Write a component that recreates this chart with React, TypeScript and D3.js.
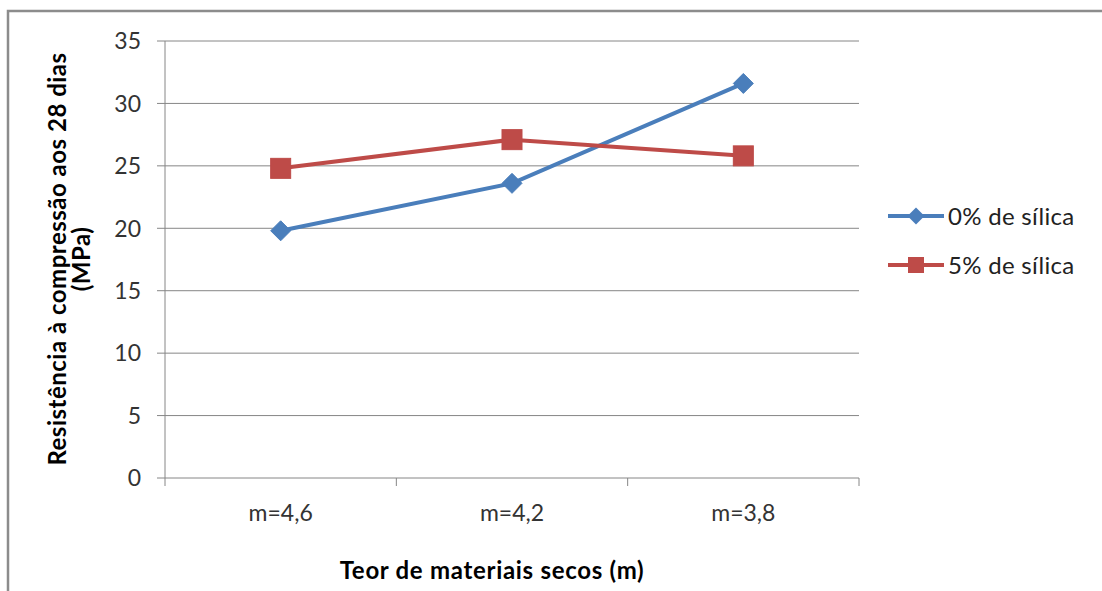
import React from "react";
import * as d3 from "d3";

const categories = ["m=4,6", "m=4,2", "m=3,8"];
const silica0 = [19.8, 23.6, 31.6];
const silica5 = [24.8, 27.1, 25.8];
const yTicks = [0, 5, 10, 15, 20, 25, 30, 35];
const seriesNames = ["0% de sílica", "5% de sílica"];

const W = 1102, H = 591;
const M = { left: 165, right: 859, top: 41, bottom: 478 };
const BLUE = "#4A7EBB";
const RED = "#BE4B48";
const GRID = "#868686";
const FONT = "Lato, Open Sans, Liberation Sans, sans-serif";

export default function App() {
  const x = d3.scaleBand<string>().domain(categories).range([M.left, M.right]);
  const y = d3.scaleLinear().domain([0, 35]).range([M.bottom, M.top]);
  const cx = (c: string) => (x(c) as number) + x.bandwidth() / 2;
  const line = d3.line<number>().x((_, i) => cx(categories[i])).y((v) => y(v));
  const bounds = [...categories.map((c) => x(c) as number), M.right];

  const diamond = (px: number, py: number, r: number) =>
    `M${px},${py - r}L${px + r},${py}L${px},${py + r}L${px - r},${py}Z`;

  return (
    <svg width={W} height={H} style={{ position: "absolute", left: 0, top: 0 }}>
      <rect x={0} y={0} width={W} height={H} fill="#fff" />
      <path d={`M8,${H}V11H${W}`} fill="none" stroke="#8c8c8c" strokeWidth={2.5} />
      {yTicks.map((t) => (
        <g key={t}>
          <line x1={M.left - 8} x2={M.right} y1={y(t)} y2={y(t)} stroke={GRID} strokeWidth={1} />
          <text x={141} y={y(t)} dy="0.36em" textAnchor="end" fontFamily={FONT} fontSize={23} fill="#333">
            {t}
          </text>
        </g>
      ))}
      <line x1={M.left} x2={M.left} y1={M.top} y2={M.bottom} stroke={GRID} strokeWidth={1} />
      {bounds.map((b, i) => (
        <line key={i} x1={b} x2={b} y1={M.bottom} y2={M.bottom + 8} stroke={GRID} strokeWidth={1} />
      ))}
      {categories.map((c) => (
        <text key={c} x={cx(c)} y={521} textAnchor="middle" fontFamily={FONT} fontSize={23} fill="#333">
          {c}
        </text>
      ))}
      <path d={line(silica0) || ""} fill="none" stroke={BLUE} strokeWidth={4} />
      <path d={line(silica5) || ""} fill="none" stroke={RED} strokeWidth={4} />
      {silica0.map((v, i) => (
        <path key={i} d={diamond(cx(categories[i]), y(v), 10)} fill={BLUE} stroke={BLUE} strokeWidth={1} />
      ))}
      {silica5.map((v, i) => (
        <rect key={i} x={cx(categories[i]) - 10} y={y(v) - 10} width={20} height={20} fill={RED} stroke={RED} strokeWidth={1} />
      ))}
      {/* Legend */}
      <g>
        <line x1={888} x2={944} y1={216} y2={216} stroke={BLUE} strokeWidth={4} />
        <path d={diamond(916, 216, 8.5)} fill={BLUE} />
        <text x={948} y={216} dy="0.36em" fontFamily={FONT} fontSize={24} letterSpacing={0.3} fill="#222">{seriesNames[0]}</text>
        <line x1={888} x2={944} y1={265} y2={265} stroke={RED} strokeWidth={4} />
        <rect x={908} y={257} width={16} height={16} fill={RED} />
        <text x={948} y={265} dy="0.36em" fontFamily={FONT} fontSize={24} letterSpacing={0.3} fill="#222">{seriesNames[1]}</text>
      </g>
      <text x={492} y={579} textAnchor="middle" fontFamily={FONT} fontSize={24} fontWeight="bold" letterSpacing={0.7} fill="#000">
        Teor de materiais secos (m)
      </text>
      <g transform={`translate(66,259) rotate(-90)`}>
        <text x={0} y={0} textAnchor="middle" fontFamily={FONT} fontSize={24} fontWeight="bold" letterSpacing={0.5} fill="#000">
          Resistência à compressão aos 28 dias
        </text>
        <text x={0} y={24} textAnchor="middle" fontFamily={FONT} fontSize={24} fontWeight="bold" letterSpacing={0.5} fill="#000">
          (MPa)
        </text>
      </g>
    </svg>
  );
}
